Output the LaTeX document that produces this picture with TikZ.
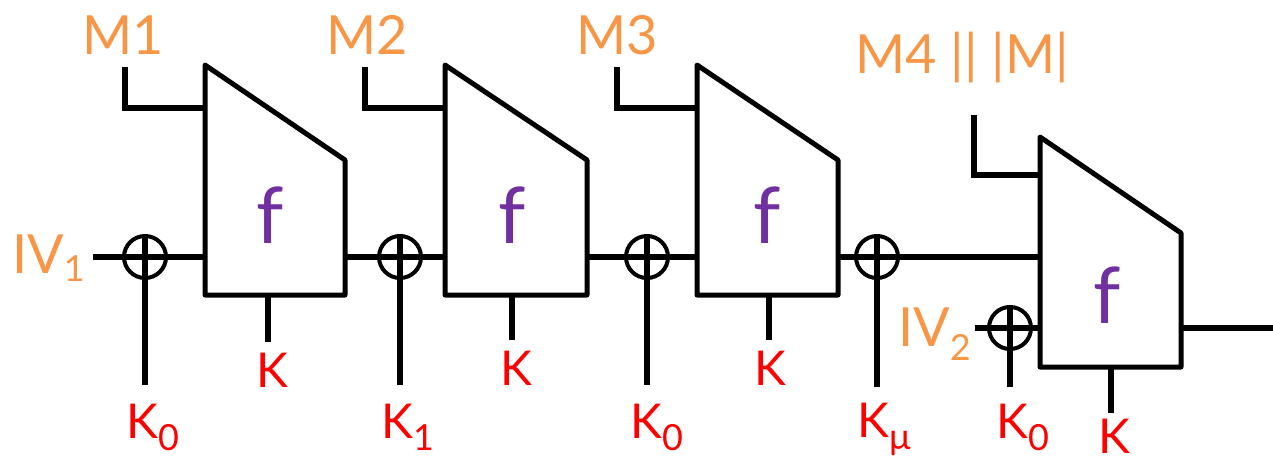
\documentclass[tikz,border=0pt]{standalone}
\usepackage{fontspec}
\setmainfont{Lato}
\definecolor{mor}{RGB}{247,150,70}
\definecolor{kred}{RGB}{255,0,0}
\definecolor{fpur}{RGB}{112,48,160}
\newcommand\lowsub[2]{\raisebox{-#2}{\fontsize{36}{36}\selectfont #1}}
\tikzset{
  wire/.style={line width=5.5pt},
  blockline/.style={line width=5pt, line join=round},
  xorc/.style={circle, draw, line width=4pt, minimum size=42pt, inner sep=0pt},
  mlab/.style={text=mor, font=\fontsize{54}{60}\selectfont, inner sep=0pt},
  klab/.style={text=kred, font=\fontsize{48}{54}\selectfont, inner sep=0pt},
  flab/.style={text=fpur, font=\fontsize{78}{80}\selectfont, inner sep=0pt},
}
\begin{document}
\begin{tikzpicture}[x=1pt,y=-1pt]
\useasboundingbox (0,0) rectangle (1273,459);

% ---- blocks ----
\foreach \n/\L/\R/\T/\RT/\B in {1/205/345/65/160/295, 2/445/587/65/160/295, 3/697/838/65/160/295, 4/1040/1181/137/233/367}{
  \coordinate (b\n lt) at (\L,\T);
  \coordinate (b\n rt) at (\R,\RT);
  \coordinate (b\n rb) at (\R,\B);
  \coordinate (b\n lb) at (\L,\B);
  \draw[blockline] (b\n lt) -- (b\n rt) -- (b\n rb) -- (b\n lb) -- cycle;
}
\node[flab] (f1) at (270,215) {f};
\node[flab] (f2) at (512,215) {f};
\node[flab] (f3) at (767,215) {f};
\node[flab] (f4) at (1107,295) {f};

% ---- chaining coordinates ----
\coordinate (b1in) at (205,257);
\coordinate (b1out) at (345,257);
\coordinate (b2in) at (445,257);
\coordinate (b2out) at (587,257);
\coordinate (b3in) at (697,257);
\coordinate (b3out) at (838,257);
\coordinate (b4in) at (1040,257);
\coordinate (b4iv) at (1040,328);
\coordinate (b4out) at (1181,328);
\coordinate (outend) at (1273,328);
\coordinate (ivstart) at (93,257);
\coordinate (iv2start) at (975,328);

% ---- XORs ----
\node[xorc] (x1) at (145,257) {};
\node[xorc] (x2) at (400,257) {};
\node[xorc] (x3) at (647,257) {};
\node[xorc] (x4) at (877,257) {};
\node[xorc] (x5) at (1010,328) {};

\draw[wire] (ivstart) -- (b1in);
\draw[wire] (b1out) -- (b2in);
\draw[wire] (b2out) -- (b3in);
\draw[wire] (b3out) -- (b4in);
\draw[wire] (iv2start) -- (b4iv);
\draw[wire] (b4out) -- (outend);

% XOR key lines
\coordinate (k1e) at (145,385);
\coordinate (k2e) at (400,385);
\coordinate (k3e) at (647,385);
\coordinate (k4e) at (877,387);
\coordinate (k5e) at (1010,387);
\draw[wire] (x1.north) -- (k1e);
\draw[wire] (x2.north) -- (k2e);
\draw[wire] (x3.north) -- (k3e);
\draw[wire] (x4.north) -- (k4e);
\draw[wire] (x5.north) -- (k5e);

% block key lines
\coordinate (kb1t) at (268,295); \coordinate (kb1e) at (268,342);
\coordinate (kb2t) at (512,295); \coordinate (kb2e) at (512,340);
\coordinate (kb3t) at (769,295); \coordinate (kb3e) at (769,340);
\coordinate (kb4t) at (1111,367); \coordinate (kb4e) at (1111,413);
\draw[wire] (kb1t) -- (kb1e);
\draw[wire] (kb2t) -- (kb2e);
\draw[wire] (kb3t) -- (kb3e);
\draw[wire] (kb4t) -- (kb4e);

% message lines
\coordinate (m1s) at (125,67);  \coordinate (m1e) at (205,108);
\coordinate (m2s) at (365,67);  \coordinate (m2e) at (445,108);
\coordinate (m3s) at (617,67);  \coordinate (m3e) at (697,108);
\coordinate (m4s) at (974,115); \coordinate (m4e) at (1040,175);
\draw[wire] (m1s) |- (m1e);
\draw[wire] (m2s) |- (m2e);
\draw[wire] (m3s) |- (m3e);
\draw[wire] (m4s) |- (m4e);

% ---- labels ----
\node[mlab] (lm1) at (123,35) {M1};
\node[mlab] (lm2) at (367,35) {M2};
\node[mlab] (lm3) at (617,35) {M3};
\node[mlab, anchor=west] (lm4) at (855,58) {M4 || |M|};
\node[mlab, anchor=west] (liv1) at (12,258) {IV\lowsub{1}{8pt}};
\node[mlab, anchor=west] (liv2) at (898,334) {IV\lowsub{2}{14pt}};

\node[klab] (lk1) at (272,370) {K};
\node[klab] (lk2) at (516,368) {K};
\node[klab] (lk3) at (770,368) {K};
\node[klab] (lk4) at (1114,436) {K};
\node[klab, anchor=west] (lka) at (126,427) {K\lowsub{0}{12pt}};
\node[klab, anchor=west] (lkb) at (381,427) {K\lowsub{1}{12pt}};
\node[klab, anchor=west] (lkc) at (630,427) {K\lowsub{0}{12pt}};
\node[klab, anchor=west] (lkd) at (857,429) {K\lowsub{μ}{12pt}};
\node[klab, anchor=west] (lke) at (996,427) {K\lowsub{0}{12pt}};
\end{tikzpicture}
\end{document}
